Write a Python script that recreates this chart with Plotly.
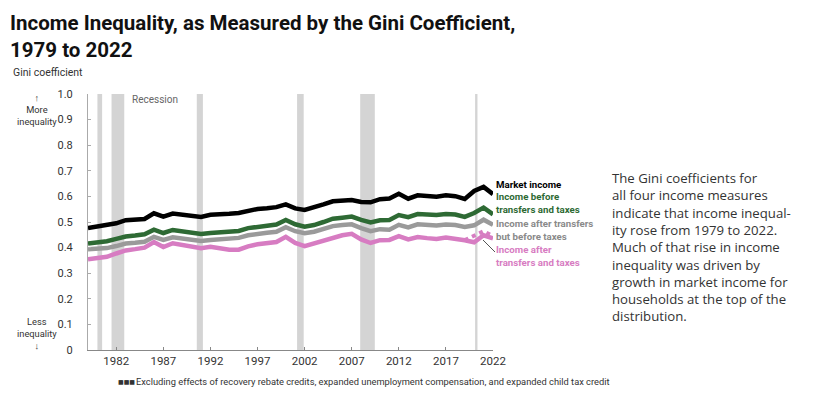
import plotly.graph_objects as go

years = list(range(1979, 2023))
market_income = [0.476, 0.481, 0.487, 0.495, 0.507, 0.508, 0.512, 0.534, 0.521, 0.533,
                 0.528, 0.523, 0.520, 0.528, 0.532, 0.532, 0.535, 0.545, 0.551, 0.554,
                 0.558, 0.569, 0.553, 0.547, 0.556, 0.569, 0.581, 0.585, 0.586, 0.578,
                 0.577, 0.589, 0.592, 0.610, 0.591, 0.604, 0.601, 0.599, 0.604, 0.601,
                 0.590, 0.621, 0.637, 0.609]
before_transfers_taxes = [0.416, 0.420, 0.425, 0.434, 0.443, 0.447, 0.452, 0.470, 0.457, 0.469,
                          0.464, 0.459, 0.453, 0.457, 0.461, 0.461, 0.465, 0.476, 0.482, 0.486,
                          0.490, 0.508, 0.491, 0.482, 0.488, 0.500, 0.513, 0.517, 0.521, 0.508,
                          0.498, 0.507, 0.508, 0.527, 0.519, 0.531, 0.529, 0.527, 0.531, 0.529,
                          0.520, 0.535, 0.556, 0.530]
after_transfers_before_taxes = [0.394, 0.395, 0.398, 0.406, 0.416, 0.419, 0.423, 0.442, 0.430, 0.440,
                                0.436, 0.432, 0.426, 0.430, 0.433, 0.433, 0.438, 0.448, 0.455, 0.458,
                                0.462, 0.480, 0.464, 0.456, 0.462, 0.472, 0.484, 0.488, 0.491, 0.476,
                                0.464, 0.472, 0.470, 0.489, 0.479, 0.491, 0.487, 0.486, 0.490, 0.488,
                                0.481, 0.487, 0.509, 0.489]
after_transfers_taxes = [0.354, 0.357, 0.364, 0.377, 0.389, 0.394, 0.400, 0.422, 0.402, 0.417,
                         0.412, 0.407, 0.398, 0.403, 0.398, 0.392, 0.392, 0.405, 0.413, 0.417,
                         0.422, 0.442, 0.418, 0.406, 0.416, 0.429, 0.440, 0.448, 0.454, 0.432,
                         0.418, 0.429, 0.430, 0.445, 0.432, 0.441, 0.437, 0.434, 0.439, 0.436,
                         0.429, 0.421, 0.448, 0.436]
excl_years = [2019, 2020, 2021, 2022]
excl_after_transfers_taxes = [0.429, 0.446, 0.464, 0.445]

recessions = [(1980.0, 1980.5), (1981.5, 1982.85), (1990.55, 1991.2), (2001.2, 2001.9),
              (2007.9, 2009.45), (2020.1, 2020.35)]

x_ticks = [1982, 1987, 1992, 1997, 2002, 2007, 2012, 2017, 2022]
y_ticks = [0, 0.1, 0.2, 0.3, 0.4, 0.5, 0.6, 0.7, 0.8, 0.9, 1.0]
y_ticktext = ["0", "0.1", "0.2", "0.3", "0.4", "0.5", "0.6", "0.7", "0.8", "0.9", "1.0"]

note_lines = ["The Gini coefficients for", "all four income measures",
              "indicate that income inequal-", "ity rose from 1979 to 2022.",
              "Much of that rise in income", "inequality was driven by",
              "growth in market income for", "households at the top of the",
              "distribution."]

C_BLACK = "#000000"
C_GREEN = "#2e6a34"
C_GRAY = "#9a9a9a"
C_PINK = "#d77cc2"
TXT = "#333333"

# page offset (browser body margin)
OFF = 8
W, H = 819 - OFF, 395 - OFF
# plot area in page pixels: x 88..493, y 94..350
PL, PR, PT, PB = 88, 493, 94, 350
L, T = PL - OFF, PT - OFF
R, B = W - (PR - OFF), H - (PB - OFF)
PW, PH = PR - PL, PB - PT


def px(x):
    return (x - PL) / PW


def py(y):
    return (PB - y) / PH


fig = go.Figure()

shapes = []
for a, b in recessions:
    shapes.append(dict(type="rect", xref="x", yref="y", x0=a, x1=b, y0=0, y1=1.0,
                       fillcolor="#d4d4d4", line=dict(width=0), layer="below"))
# leader line for after-tax label
shapes.append(dict(type="line", xref="paper", yref="paper", x0=px(483), y0=py(240),
                   x1=px(495), y1=py(252), line=dict(color="#555555", width=1)))

series = [
    (after_transfers_taxes, C_PINK),
    (after_transfers_before_taxes, C_GRAY),
    (before_transfers_taxes, C_GREEN),
    (market_income, C_BLACK),
]
for vals, col in series:
    fig.add_trace(go.Scatter(x=years, y=vals, mode="lines",
                             line=dict(color=col, width=4.5),
                             hoverinfo="x+y", showlegend=False))

fig.add_trace(go.Scatter(x=excl_years, y=excl_after_transfers_taxes, mode="lines",
                         line=dict(color=C_PINK, width=4, dash="dot"),
                         showlegend=False))

ann = []
ann.append(dict(text="<b>Income Inequality, as Measured by the Gini Coefficient,<br>1979 to 2022</b>",
                xref="paper", yref="paper", x=px(8), y=py(8.5), xanchor="left", yanchor="top",
                align="left", showarrow=False,
                font=dict(family="Roboto", size=20.5, color="#111111", weight=900)))
ann.append(dict(text="Gini coefficient", xref="paper", yref="paper", x=px(11), y=py(72),
                xanchor="left", yanchor="middle", showarrow=False,
                font=dict(family="Roboto", size=10.5, color=TXT)))
ann.append(dict(text="↑<br>More<br>inequality", xref="paper", yref="paper", x=px(37), y=py(90),
                xanchor="center", yanchor="top", align="center", showarrow=False,
                font=dict(family="Roboto", size=9.3, color=TXT)))
ann.append(dict(text="Less<br>inequality<br>↓", xref="paper", yref="paper", x=px(37), y=py(353),
                xanchor="center", yanchor="bottom", align="center", showarrow=False,
                font=dict(family="Roboto", size=9.3, color=TXT)))
ann.append(dict(text="Recession", xref="paper", yref="paper", x=px(130), y=py(99),
                xanchor="left", yanchor="middle", showarrow=False,
                font=dict(family="Roboto", size=10, color="#666666")))

labels = [
    ("<b>Market income</b>", 184, C_BLACK),
    ("<b>Income before<br>transfers and taxes</b>", 203, C_GREEN),
    ("<b>Income after transfers<br>but before taxes</b>", 230, "#8a8a8a"),
    ("<b>Income after<br>transfers and taxes</b>", 256, C_PINK),
]
for t, yy, col in labels:
    ann.append(dict(text=t, xref="paper", yref="paper", x=px(494), y=py(yy),
                    xanchor="left", yanchor="middle", align="left", showarrow=False,
                    font=dict(family="Roboto", size=9.7, color=col)))

for i, line in enumerate(note_lines):
    ann.append(dict(text=line, xref="paper", yref="paper", x=px(610), y=py(178 + i * 17.3),
                    xanchor="left", yanchor="middle", align="left", showarrow=False,
                    font=dict(family="Open Sans", size=13.2, color=TXT)))

ann.append(dict(text="■■■", xref="paper", yref="paper", x=px(116), y=py(381),
                xanchor="left", yanchor="middle", showarrow=False,
                font=dict(family="DejaVu Sans", size=6, color="#333333")))
ann.append(dict(text="Excluding effects of recovery rebate credits, expanded unemployment compensation, and expanded child tax credit",
                xref="paper", yref="paper", x=px(134), y=py(381),
                xanchor="left", yanchor="middle", showarrow=False,
                font=dict(family="Roboto", size=9.3, color=TXT)))

fig.update_layout(
    width=W, height=H,
    margin=dict(l=L, r=R, t=T, b=B, pad=0),
    paper_bgcolor="white", plot_bgcolor="white",
    shapes=shapes, annotations=ann,
    xaxis=dict(range=[1979, 2022], tickvals=x_ticks, showgrid=False, zeroline=False,
               showline=True, linecolor="#888888", linewidth=1,
               ticks="inside", ticklen=3, tickcolor="#888888",
               tickfont=dict(family="Roboto", size=11.5, color=TXT)),
    yaxis=dict(range=[0, 1.0], tickvals=y_ticks, ticktext=y_ticktext, showgrid=False,
               zeroline=False, showline=True, linecolor="#aaaaaa", linewidth=1,
               ticks="inside", ticklen=3, tickcolor="#aaaaaa", ticklabelstandoff=12,
               tickfont=dict(family="Roboto", size=11, color=TXT)),
)

fig.write_html("out.html")
